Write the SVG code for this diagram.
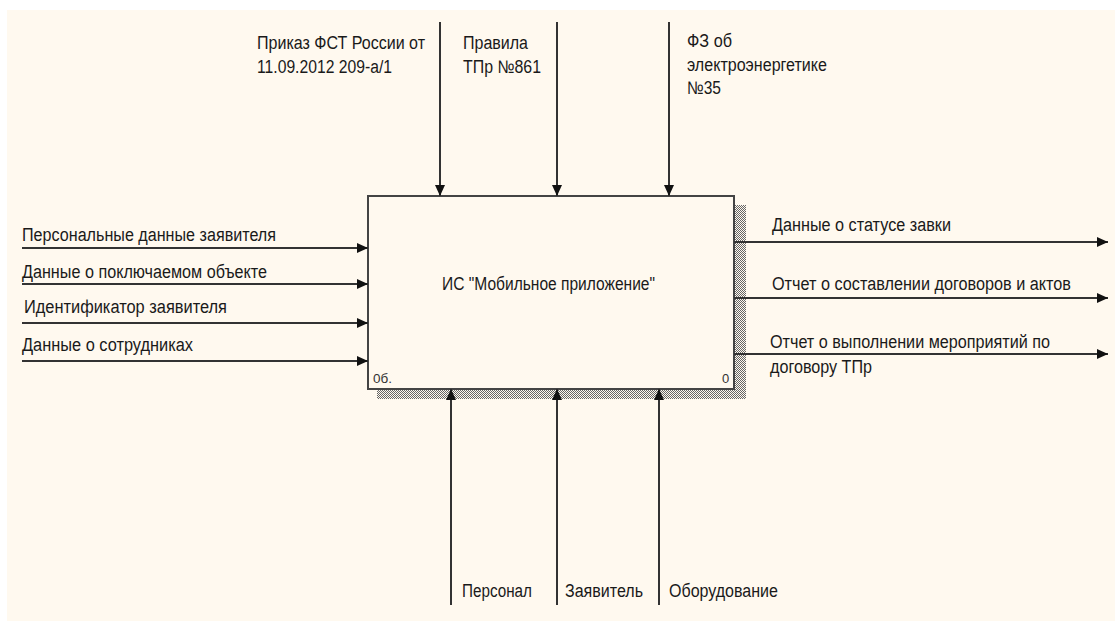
<svg xmlns="http://www.w3.org/2000/svg" width="1115" height="621" viewBox="0 0 1115 621">
  <style>
    .t { font-family: "Liberation Sans", Arial, sans-serif; font-size: 18px; fill: #1a1a1a; }
    .s { font-family: "Liberation Sans", Arial, sans-serif; font-size: 13px; fill: #333; }
    .c { stroke: #333; stroke-width: 2; fill: none; }
  </style>
  <defs>
    <marker id="arr" markerUnits="userSpaceOnUse" markerWidth="12" markerHeight="10" refX="11" refY="5" orient="auto">
      <path d="M0,0 L11,5 L0,10 z" fill="#111"/>
    </marker>
    <pattern id="hatch" width="2" height="2" patternUnits="userSpaceOnUse">
      <rect x="0" y="0" width="1" height="1" fill="#666"/>
      <rect x="1" y="1" width="1" height="1" fill="#666"/>
    </pattern>
  </defs>
  <rect x="0" y="0" width="1115" height="621" fill="#ffffff"/>
  <rect x="7" y="10" width="1108" height="611" fill="#fff9ef"/>

  <g id="node-A0">
    <rect x="734" y="205" width="12" height="194" fill="url(#hatch)"/>
    <rect x="377" y="389" width="369" height="10" fill="url(#hatch)"/>
    <rect x="368" y="196" width="366" height="193" fill="#fff9ef" stroke="#444" stroke-width="2"/>
    <text class="t" x="442" y="290" textLength="213" lengthAdjust="spacingAndGlyphs">ИС "Мобильное приложение"</text>
    <text class="s" x="373" y="383" textLength="19" lengthAdjust="spacingAndGlyphs">0б.</text>
    <text class="s" x="722" y="383">0</text>
  </g>

  <g id="connectors">
    <line class="c" x1="440" y1="22" x2="440" y2="196" marker-end="url(#arr)"/>
    <line class="c" x1="557" y1="22" x2="557" y2="196" marker-end="url(#arr)"/>
    <line class="c" x1="669" y1="22" x2="669" y2="196" marker-end="url(#arr)"/>
    <line class="c" x1="22" y1="248" x2="368" y2="248" marker-end="url(#arr)"/>
    <line class="c" x1="22" y1="284" x2="368" y2="284" marker-end="url(#arr)"/>
    <line class="c" x1="22" y1="323" x2="368" y2="323" marker-end="url(#arr)"/>
    <line class="c" x1="22" y1="361" x2="368" y2="361" marker-end="url(#arr)"/>
    <line class="c" x1="734" y1="242" x2="1108" y2="242" marker-end="url(#arr)"/>
    <line class="c" x1="734" y1="298" x2="1108" y2="298" marker-end="url(#arr)"/>
    <line class="c" x1="734" y1="354" x2="1108" y2="354" marker-end="url(#arr)"/>
    <line class="c" x1="451" y1="605" x2="451" y2="389" marker-end="url(#arr)"/>
    <line class="c" x1="557" y1="605" x2="557" y2="389" marker-end="url(#arr)"/>
    <line class="c" x1="659" y1="605" x2="659" y2="389" marker-end="url(#arr)"/>
  </g>

  <g id="labels">
    <text class="t" x="257" y="49" textLength="168" lengthAdjust="spacingAndGlyphs">Приказ ФСТ России от</text>
    <text class="t" x="257" y="73" textLength="135" lengthAdjust="spacingAndGlyphs">11.09.2012 209-а/1</text>
    <text class="t" x="463" y="49" textLength="65" lengthAdjust="spacingAndGlyphs">Правила</text>
    <text class="t" x="463" y="73" textLength="78" lengthAdjust="spacingAndGlyphs">ТПр №861</text>
    <text class="t" x="687" y="47" textLength="45" lengthAdjust="spacingAndGlyphs">ФЗ об</text>
    <text class="t" x="687" y="71" textLength="140" lengthAdjust="spacingAndGlyphs">электроэнергетике</text>
    <text class="t" x="687" y="94" textLength="34" lengthAdjust="spacingAndGlyphs">№35</text>

    <text class="t" x="22" y="241" textLength="254" lengthAdjust="spacingAndGlyphs">Персональные данные заявителя</text>
    <text class="t" x="22" y="278" textLength="245" lengthAdjust="spacingAndGlyphs">Данные о поключаемом объекте</text>
    <text class="t" x="24" y="313" textLength="203" lengthAdjust="spacingAndGlyphs">Идентификатор заявителя</text>
    <text class="t" x="22" y="351" textLength="171" lengthAdjust="spacingAndGlyphs">Данные о сотрудниках</text>

    <text class="t" x="772" y="231" textLength="179" lengthAdjust="spacingAndGlyphs">Данные о статусе завки</text>
    <text class="t" x="772" y="290" textLength="299" lengthAdjust="spacingAndGlyphs">Отчет о составлении договоров и актов</text>
    <text class="t" x="770" y="348" textLength="280" lengthAdjust="spacingAndGlyphs">Отчет о выполнении мероприятий по</text>
    <text class="t" x="770" y="373" textLength="102" lengthAdjust="spacingAndGlyphs">договору ТПр</text>

    <text class="t" x="462" y="597" textLength="70" lengthAdjust="spacingAndGlyphs">Персонал</text>
    <text class="t" x="565" y="597" textLength="78" lengthAdjust="spacingAndGlyphs">Заявитель</text>
    <text class="t" x="669" y="597" textLength="109" lengthAdjust="spacingAndGlyphs">Оборудование</text>
  </g>
</svg>
